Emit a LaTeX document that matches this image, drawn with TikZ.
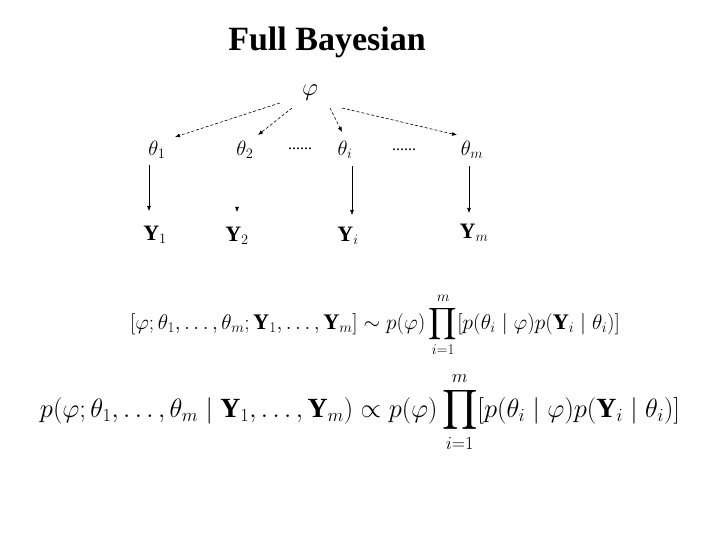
\documentclass[tikz,border=0pt]{standalone}
\usepackage{amsmath,amssymb,graphicx}
\usepackage{fontspec}
\setmainfont{Liberation Serif}
\usetikzlibrary{arrows.meta}
\begin{document}
\begin{tikzpicture}[x=1pt,y=-1pt,
  lbl/.style={inner sep=0pt,font=\fontsize{22}{26}\selectfont},
  eqn/.style={inner sep=0pt,font=\fontsize{26}{30}\selectfont},
  darr/.style={-{Latex[length=5pt,width=4pt]},densely dashed,line width=0.6pt},
  sarr/.style={-{Latex[length=5pt,width=4pt]},line width=0.6pt}]
\useasboundingbox[fill=white] (0,0) rectangle (720,540);
\node[inner sep=0pt,font=\fontsize{34}{38}\bfseries] (title) at (327,42) {Full Bayesian};
\node[lbl,font=\fontsize{28}{32}\selectfont] (phi) at (310,93) {$\varphi$};
\node[lbl] (t1) at (157,150) {$\theta_1$};
\node[lbl] (t2) at (245,150) {$\theta_2$};
\node[lbl] (ti) at (345,150) {$\theta_i$};
\node[lbl] (tm) at (472,150) {$\theta_m$};
\node[inner sep=0pt,font=\fontsize{16}{20}\selectfont] (d1) at (300,149) {......};
\node[inner sep=0pt,font=\fontsize{16}{20}\selectfont] (d2) at (404,150) {......};
\node[lbl] (y1) at (155,235) {$\mathbf{Y}_1$};
\node[lbl] (y2) at (237,236) {$\mathbf{Y}_2$};
\node[lbl] (yi) at (348,236) {$\mathbf{Y}_i$};
\node[lbl] (ym) at (474,233) {$\mathbf{Y}_m$};
\coordinate (y2t) at (237,207);
\draw[darr] (phi.west) ++(-22,10) coordinate (s1) -- (175,137);
\draw[darr] (292,108) -- (258,135);
\draw[darr] (330,108) -- (342,132);
\draw[darr] (342,108) -- (457,135);
\draw[sarr] (149,165) -- (149,211);
\draw[sarr] (y2t) -- (237,212);
\draw[sarr] (352,166) -- (352,215);
\draw[sarr] (469,166) -- (469,213);
\node[eqn] (eq1) at (375,325)
 {\resizebox{490pt}{!}{$\displaystyle[\varphi;\theta_1,\ldots,\theta_m;\mathbf{Y}_1,\ldots,\mathbf{Y}_m]\sim p(\varphi)\prod_{i=1}^{m}[p(\theta_i\mid\varphi)p(\mathbf{Y}_i\mid\theta_i)]$}};
\node[eqn] (eq2) at (360,412)
 {\resizebox{640pt}{!}{$\displaystyle p(\varphi;\theta_1,\ldots,\theta_m\mid\mathbf{Y}_1,\ldots,\mathbf{Y}_m)\propto p(\varphi)\prod_{i=1}^{m}[p(\theta_i\mid\varphi)p(\mathbf{Y}_i\mid\theta_i)]$}};
\end{tikzpicture}
\end{document}
